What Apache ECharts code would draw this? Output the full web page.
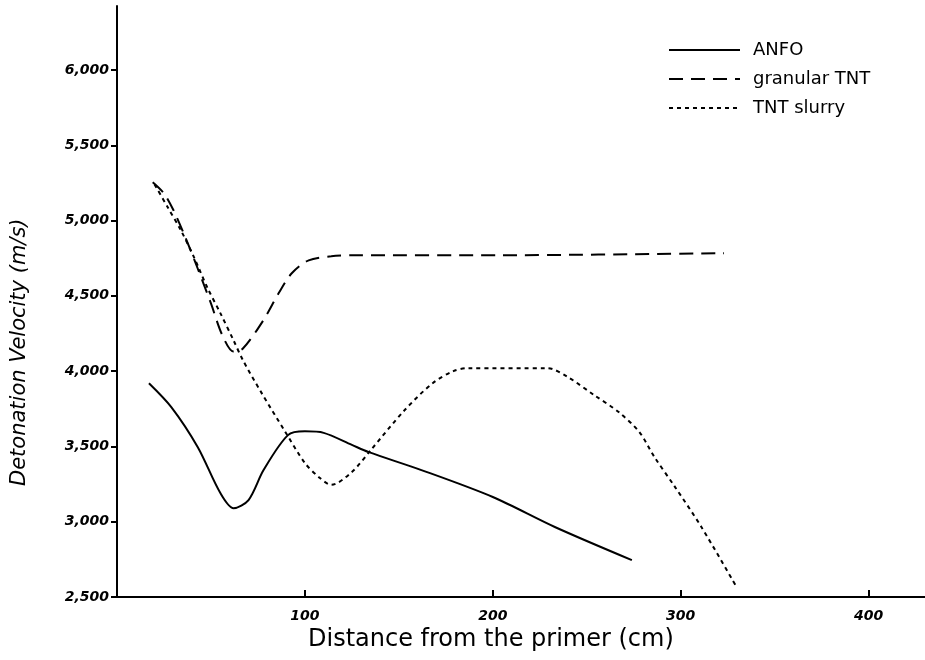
<!DOCTYPE html>
<html>
<head>
<meta charset="utf-8">
<title>Detonation velocity</title>
<script src="https://cdn.jsdelivr.net/npm/echarts@6/dist/echarts.min.js"></script>
<style>
  html, body { margin: 0; padding: 0; background: #fff; }
  #chart { width: 925px; height: 660px; }
</style>
</head>
<body>
<div id="chart"></div>
<script>
  // distance from the primer (cm) and detonation velocity (m/s)
  const anfoDist = [17, 29, 43, 55, 62, 70, 78, 91, 100, 110, 125, 134, 162, 200, 233, 274];
  const anfoVel = [3920, 3760, 3495, 3190, 3090, 3144, 3343, 3575, 3600, 3590, 3510, 3462, 3343, 3164, 2965, 2745];

  const granularDist = [19, 25, 30, 36, 43, 50, 56, 62, 67, 78, 86, 93, 102, 114, 125, 205, 323];
  const granularVel = [5254, 5180, 5070, 4900, 4680, 4450, 4240, 4130, 4150, 4340, 4517, 4650, 4736, 4763, 4770, 4770, 4783];

  const slurryDist = [20, 27, 34, 41, 48, 55, 62, 67, 77, 89, 100, 108, 114, 125, 135, 153, 168, 179, 187, 229, 240, 254, 267, 278, 286, 297, 311, 330];
  const slurryVel = [5240, 5088, 4935, 4756, 4557, 4385, 4205, 4073, 3854, 3608, 3390, 3290, 3245, 3330, 3475, 3740, 3920, 4000, 4020, 4020, 3960, 3840, 3728, 3595, 3430, 3230, 2965, 2560];

  const xTicks = [100, 200, 300, 400];
  const yTicks = [2500, 3000, 3500, 4000, 4500, 5000, 5500, 6000];

  const seriesNames = ["ANFO", "granular TNT", "TNT slurry"];

  function pairs(xs, ys) {
    return xs.map((x, i) => [x, ys[i]]);
  }

  const handFont = "DejaVu Sans";
  const myChart = echarts.init(document.getElementById("chart"));

  const option = {
    backgroundColor: "#fff",
    animation: false,
    color: ["#000", "#000", "#000"],
    grid: { left: 117, right: 0, top: 6, bottom: 63 },
    legend: {
      orient: "vertical",
      left: 663,
      top: 35,
      itemWidth: 71,
      itemHeight: 14,
      itemGap: 9,
      data: seriesNames,
      itemStyle: { opacity: 0 },
      textStyle: { color: "#000", fontFamily: handFont, fontSize: 18, lineHeight: 20, padding: [0, 0, 0, 8] }
    },
    xAxis: {
      type: "value",
      min: 0,
      max: 430,
      splitLine: { show: false },
      axisLine: { onZero: false, lineStyle: { color: "#000", width: 2 } },
      axisTick: { customValues: xTicks, inside: true, length: 7, lineStyle: { color: "#000", width: 2 } },
      axisLabel: {
        customValues: xTicks,
        margin: 12,
        color: "#000",
        fontFamily: handFont,
        fontStyle: "italic",
        fontWeight: "bold",
        fontSize: 14
      }
    },
    yAxis: {
      type: "value",
      min: 2500,
      max: 6425,
      splitLine: { show: false },
      axisLine: { show: true, onZero: false, lineStyle: { color: "#000", width: 2 } },
      axisTick: { show: true, customValues: yTicks, length: 6, lineStyle: { color: "#000", width: 2 } },
      axisLabel: {
        customValues: yTicks,
        margin: 8,
        color: "#000",
        fontFamily: handFont,
        fontStyle: "italic",
        fontWeight: "bold",
        fontSize: 14,
        formatter: v => v.toLocaleString("en-US")
      }
    },
    graphic: [
      {
        type: "text",
        left: 308,
        top: 628,
        style: {
          text: "Distance from the primer (cm)",
          fill: "#000",
          font: "24px " + handFont
        }
      },
      {
        type: "text",
        x: 9,
        y: 486,
        rotation: Math.PI / 2,
        style: {
          text: "Detonation Velocity (m/s)",
          fill: "#000",
          font: "italic 21px " + handFont
        }
      }
    ],
    series: [
      {
        name: seriesNames[0],
        type: "line",
        data: pairs(anfoDist, anfoVel),
        smooth: 0.3,
        showSymbol: false,
        symbol: "none",
        lineStyle: { color: "#000", width: 2, type: "solid" }
      },
      {
        name: seriesNames[1],
        type: "line",
        data: pairs(granularDist, granularVel),
        smooth: 0.3,
        showSymbol: false,
        symbol: "none",
        lineStyle: { color: "#000", width: 2, type: [14, 8] }
      },
      {
        name: seriesNames[2],
        type: "line",
        data: pairs(slurryDist, slurryVel),
        smooth: 0.3,
        showSymbol: false,
        symbol: "none",
        lineStyle: { color: "#000", width: 2, type: [4, 4] }
      }
    ]
  };

  myChart.setOption(option);
</script>
</body>
</html>
